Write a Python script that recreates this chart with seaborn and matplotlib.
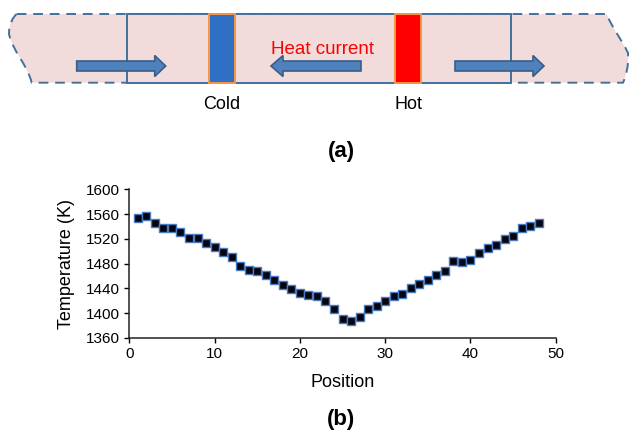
import matplotlib
matplotlib.use("Agg")
import matplotlib.pyplot as plt
from matplotlib.patches import Rectangle, FancyArrow, PathPatch
from matplotlib.path import Path
import seaborn as sns
import pandas as pd

# measured temperature profile along the chain
position = list(range(1, 49))
temperature = [1554, 1557, 1546, 1538, 1538, 1531, 1521, 1522, 1514, 1507,
               1499, 1491, 1477, 1470, 1468, 1462, 1454, 1446, 1439, 1433,
               1430, 1427, 1419, 1406, 1391, 1387, 1394, 1407, 1412, 1419,
               1428, 1431, 1441, 1447, 1454, 1461, 1468, 1484, 1483, 1486,
               1497, 1506, 1510, 1520, 1524, 1537, 1540, 1545]

x_ticks = [0, 10, 20, 30, 40, 50]
y_ticks = [1360, 1400, 1440, 1480, 1520, 1560, 1600]

sns.set_style("ticks")
plt.rcParams['font.family'] = ['Liberation Sans', 'DejaVu Sans']
plt.rcParams['text.color'] = 'black'
plt.rcParams['axes.labelcolor'] = 'black'

fig = plt.figure(figsize=(6.29, 4.36), dpi=100)

# ---- (a) schematic, drawn in pixel space ----
sk = fig.add_axes([0, 0, 1, 1])
sk.set_xlim(0, 629)
sk.set_ylim(436, 0)
sk.axis('off')

edge = '#41719C'
pink = '#F2DCDB'

verts = [(16.7, 14), (606.7, 14),
         (612, 28), (622, 40), (628, 53),
         (629, 65), (626, 76), (623, 82.7),
         (31.7, 82.7),
         (27, 64), (13, 52), (9, 34),
         (9, 24), (13, 17), (16.7, 14)]
codes = [Path.MOVETO, Path.LINETO,
         Path.CURVE4, Path.CURVE4, Path.CURVE4,
         Path.CURVE4, Path.CURVE4, Path.CURVE4,
         Path.LINETO,
         Path.CURVE4, Path.CURVE4, Path.CURVE4,
         Path.CURVE4, Path.CURVE4, Path.CURVE4]
sk.add_patch(PathPatch(Path(verts, codes), facecolor=pink, edgecolor=edge,
                       lw=1.4, ls=(0, (5, 3.5)), zorder=1))
sk.add_patch(Rectangle((127, 14), 384, 68.7, facecolor=pink, edgecolor=edge,
                       lw=1.4, zorder=2))
sk.add_patch(Rectangle((209, 14), 25.7, 68.7, facecolor='#3070C4',
                       edgecolor='#F79646', lw=1.4, zorder=3))
sk.add_patch(Rectangle((395, 14), 25.7, 68.7, facecolor='#FF0000',
                       edgecolor='#F79646', lw=1.4, zorder=3))

arrow_kw = dict(width=10, head_width=21, length_includes_head=True,
                facecolor='#4F81BD', edgecolor='#385D8A', lw=1.2, zorder=4)
sk.add_patch(FancyArrow(76.7, 66, 89, 0, head_length=11, **arrow_kw))
sk.add_patch(FancyArrow(361, 66, -90, 0, head_length=12, **arrow_kw))
sk.add_patch(FancyArrow(455, 66, 89, 0, head_length=11, **arrow_kw))

sk.text(322.5, 49, 'Heat current', color='#FF0000', fontsize=13.5,
        ha='center', va='center', zorder=5)
sk.text(222, 104, 'Cold', fontsize=13, ha='center', va='center')
sk.text(408, 104, 'Hot', fontsize=13, ha='center', va='center')
sk.text(341, 151, '(a)', fontsize=16, fontweight='bold', ha='center', va='center')
sk.text(341, 419, '(b)', fontsize=16, fontweight='bold', ha='center', va='center')

# ---- (b) temperature profile ----
ax = fig.add_axes([0.2056, 0.2248, 0.678, 0.341])
df = pd.DataFrame({'Position': position, 'Temperature': temperature})
sns.scatterplot(data=df, x='Position', y='Temperature', marker='s', s=30,
                color='#050510', edgecolor='#4A7AC0', linewidth=1.0,
                ax=ax, clip_on=False, zorder=3)
ax.set_xlim(0, 50)
ax.set_ylim(1360, 1600)
ax.set_xticks(x_ticks)
ax.set_yticks(y_ticks)
ax.tick_params(labelsize=11, length=3.5, width=1, pad=3, colors='black')
ax.set_xlabel('Position', fontsize=13, labelpad=9)
ax.set_ylabel('Temperature (K)', fontsize=13, labelpad=8)
sns.despine(ax=ax)
for s in ['left', 'bottom']:
    ax.spines[s].set_linewidth(1.1)
    ax.spines[s].set_color('#222222')

fig.savefig('out.png', dpi=100)
